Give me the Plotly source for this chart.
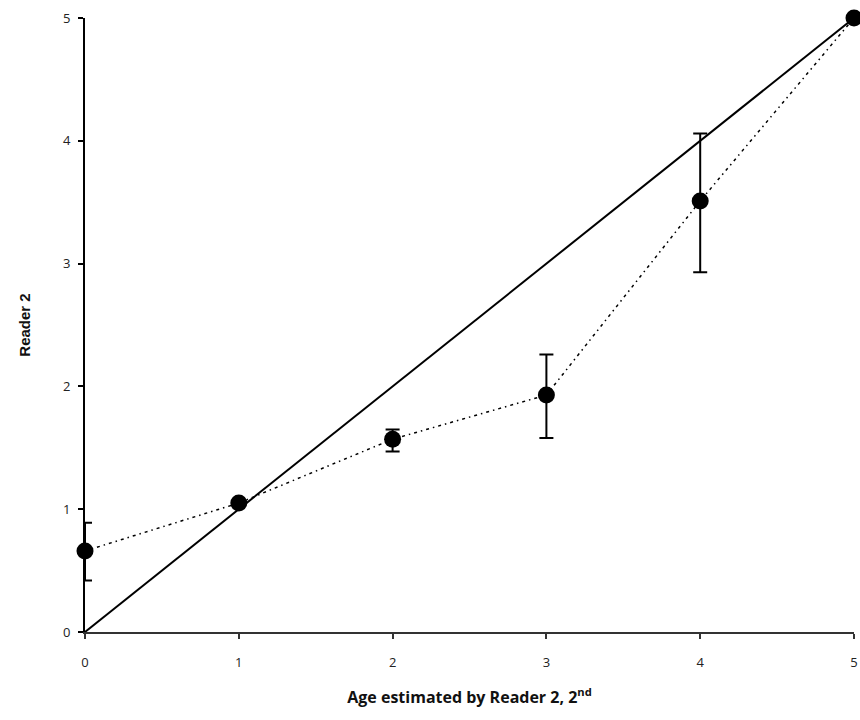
import plotly.graph_objects as go

ages = [0, 1, 2, 3, 4, 5]
means = [0.66, 1.05, 1.57, 1.93, 3.51, 5.0]
err_plus = [0.23, 0.0, 0.08, 0.33, 0.55, 0.0]
err_minus = [0.24, 0.0, 0.10, 0.35, 0.58, 0.0]
identity_x = [0, 5]
identity_y = [0, 5]
tick_vals = [0, 1, 2, 3, 4, 5]

fig = go.Figure()
fig.add_trace(go.Scatter(
    x=identity_x, y=identity_y, mode="lines",
    line=dict(color="black", width=2), cliponaxis=False, showlegend=False,
))
fig.add_trace(go.Scatter(
    x=ages, y=means, mode="lines+markers",
    line=dict(color="black", width=1.5, dash="3px,4px,1.5px,4px"),
    marker=dict(color="black", size=17),
    error_y=dict(type="data", symmetric=False, array=err_plus, arrayminus=err_minus,
                 color="black", thickness=2, width=7),
    cliponaxis=False, showlegend=False,
))

fig.update_layout(
    width=860, height=720,
    margin=dict(l=85, r=6, t=18, b=88),
    plot_bgcolor="white", paper_bgcolor="white",
    font=dict(family="Open Sans", size=13, color="#222"),
)
fig.update_xaxes(
    range=[0, 5], tickvals=tick_vals, showgrid=False, zeroline=False,
    showline=True, linecolor="#333", linewidth=2, automargin=False,
    ticks="outside", ticklen=5, tickcolor="#333", tickwidth=1.5,
    tickfont=dict(family="Open Sans", size=13, color="#222"),
    ticklabelstandoff=12,
    title=dict(text="<b>Age estimated by Reader 2, 2<sup>nd</sup></b>",
               font=dict(family="Open Sans", size=16, color="#111"), standoff=22),
)
fig.update_yaxes(
    range=[0, 5], tickvals=tick_vals, showgrid=False, zeroline=False,
    showline=True, linecolor="black", linewidth=2, automargin=False,
    ticks="outside", ticklen=5, tickcolor="black", tickwidth=1.5,
    tickfont=dict(family="Open Sans", size=13, color="#222"),
    ticklabelstandoff=5,
    title=dict(text="<b>Reader 2</b>",
               font=dict(family="Liberation Sans", size=15, color="#111"), standoff=29),
)

fig.write_html(
    "out.html",
    config={"displayModeBar": False},
    post_script="document.body.style.margin='0';document.body.style.overflow='hidden';",
)
